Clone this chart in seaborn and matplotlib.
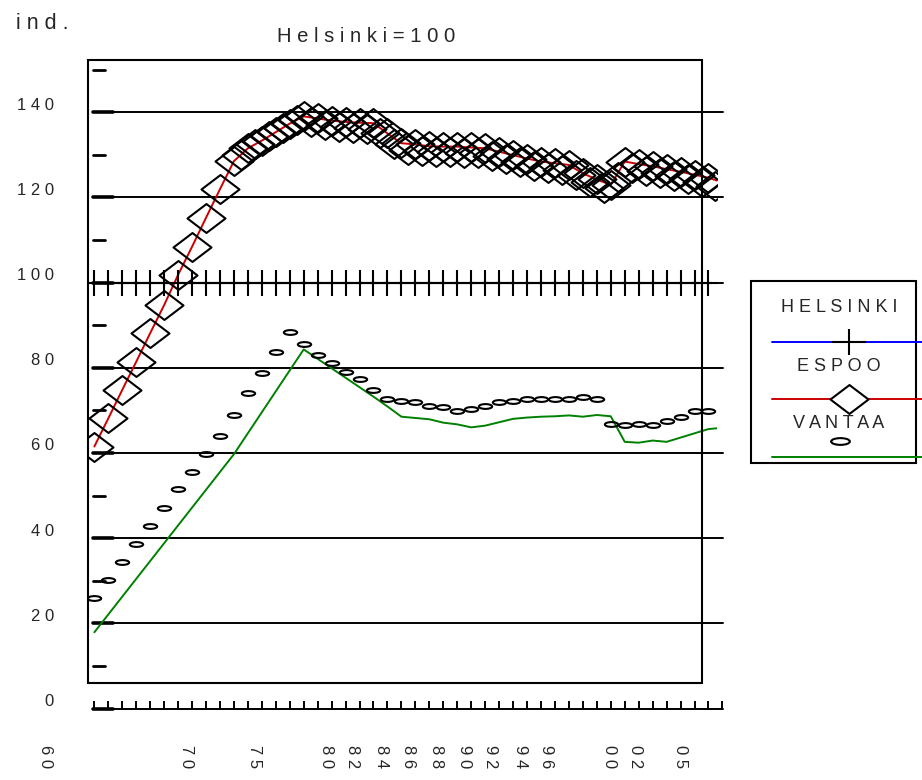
import numpy as np
import matplotlib
matplotlib.use("Agg")
import matplotlib.pyplot as plt
from matplotlib.path import Path
from matplotlib.patches import Rectangle
from matplotlib.transforms import ScaledTranslation, blended_transform_factory
import seaborn as sns

# ── Data ────────────────────────────────────────────────
tick_years = np.arange(1960, 2006)

hki_years = np.arange(1960, 2005)
hki_values = [100] * len(hki_years)

espoo_years = np.arange(1960, 2006)
espoo_line = [61.5, 68.1, 74.8, 81.4, 88.1, 94.7, 101.8, 108.4, 115.2, 121.9,
              128.5, 131.5, 133.3, 135.3, 137.3, 139.0, 138.5, 138.0, 137.7, 137.5,
              137.4, 135.0, 132.7, 132.4, 132.0, 131.9, 131.9, 131.7, 131.5, 130.7,
              129.9, 129.1, 128.4, 128.0, 127.6, 125.6, 124.2, 122.9, 128.4, 127.8,
              127.3, 126.6, 126.0, 125.3, 124.6, 123.5]
# vinoneliöt: vuosittain + toinen rivi puolen vuoden välein 1970-luvulta alkaen
espoo_mark_years = list(range(1960, 2005)) + [y + 0.5 for y in range(1970, 2005)]
espoo_marks = espoo_line[:45] + [
    130.0, 132.4, 134.3, 136.3, 138.2, 137.6, 136.9, 136.5, 136.3, 136.1,
    135.0, 132.6, 131.2, 130.9, 130.6, 130.6, 130.5, 130.3, 129.8, 129.0,
    128.2, 127.4, 126.9, 126.5, 125.3, 123.6, 122.2, 124.8, 126.8, 126.2,
    125.6, 125.0, 124.3, 123.7, 122.7]

vantaa_mark_years = np.arange(1960, 2005)
vantaa_marks = [25.9, 30.2, 34.5, 38.6, 42.8, 47.1, 51.5, 55.5, 59.7, 64.0,
                69.0, 74.0, 78.8, 83.6, 88.3, 85.6, 83.0, 81.0, 79.0, 77.3,
                74.8, 72.7, 72.3, 71.9, 71.0, 70.7, 69.9, 70.3, 71.1, 71.9,
                72.2, 72.6, 72.7, 72.7, 72.7, 73.1, 72.6, 66.7, 66.5, 66.9,
                66.6, 67.6, 68.5, 69.8, 69.9]
vantaa_line_years = [1960, 1970, 1975, 1980, 1981, 1982, 1983, 1984, 1985, 1986,
                     1987, 1988, 1989, 1990, 1991, 1992, 1993, 1994, 1995, 1996,
                     1997, 1998, 1999, 2000, 2001, 2002, 2003, 2004, 2005]
vantaa_line = [17.9, 59.7, 84.3, 73.2, 70.9, 68.5, 68.2, 67.9, 67.1, 66.7,
               66.0, 66.4, 67.2, 68.0, 68.3, 68.5, 68.6, 68.8, 68.5, 68.9,
               68.6, 62.6, 62.4, 62.9, 62.6, 63.6, 64.6, 65.6, 65.9]

grid_vals = [0, 20, 40, 60, 80, 100, 120, 140]
minor_vals = [10, 30, 50, 70, 90, 110, 130, 150]
ylab_vals = [0, 20, 40, 60, 80, 100, 120, 140]
xlab_text = ["60", "70", "75", "80", "82", "84", "86", "88", "90",
             "92", "94", "96", "00", "02", "05"]
xlab_pos = [1956.5, 1966.6, 1971.5, 1976.6, 1978.5, 1980.6, 1982.5, 1984.5,
            1986.5, 1988.4, 1990.5, 1992.4, 1996.9, 1998.8, 2002.0]

legend_names = ["HELSINKI", "ESPOO", "VANTAA"]

XMIN, XMAX, BOX_RIGHT = 1959.51, 2004.61, 2003.5
YMIN, YMAX = 5.99, 152.23


def sp(s):
    # harva kirjainväli kuten alkuperäisessä
    return " ".join(s)


# ── Markers ─────────────────────────────────────────────
cross = Path([(-1, 0), (1, 0), (0, -0.76), (0, 0.76)],
             [Path.MOVETO, Path.LINETO, Path.MOVETO, Path.LINETO])
diamond = Path([(-1, 0), (0, 0.76), (1, 0), (0, -0.76), (-1, 0)],
               [Path.MOVETO, Path.LINETO, Path.LINETO, Path.LINETO, Path.CLOSEPOLY])
circ = Path.unit_circle()
ellipse = Path(circ.vertices * np.array([1.0, 0.36]), circ.codes)

sns.set_style("white")
plt.rcParams['font.family'] = ['Liberation Sans', 'DejaVu Sans']

W, H = 922, 780
fig = plt.figure(figsize=(W / 100, H / 100), dpi=100)


def px_box(l, t, r, b):
    return [l / W, 1 - b / H, (r - l) / W, (b - t) / H]


ax = fig.add_axes(px_box(87.5, 60, 717, 683))

# ── Grid, stubs, ticks ──────────────────────────────────
for v in grid_vals:
    ax.plot([1959.9, 2005.05], [v, v], color="black", lw=1.4, clip_on=False, zorder=1)
    ax.plot([1959.9, 1961.34], [v, v], color="black", lw=2.6, clip_on=False, zorder=1)
for v in minor_vals:
    ax.plot([1959.9, 1960.77], [v, v], color="black", lw=2.0, clip_on=False, zorder=1)
ax.vlines(tick_years, 0, 1.8, colors="black", lw=1.4, clip_on=False, zorder=1)

# ── Series ──────────────────────────────────────────────
sns.lineplot(x=hki_years, y=hki_values, ax=ax, color="blue", lw=1.4,
             marker=cross, ms=24.5, markeredgecolor="black", markeredgewidth=1.5,
             zorder=3)
sns.lineplot(x=espoo_years, y=espoo_line, ax=ax, color="#cc0000", lw=1.4, zorder=2)
sns.lineplot(x=espoo_mark_years, y=espoo_marks, ax=ax, linestyle="none",
             marker=diamond, ms=27.4, markerfacecolor="none",
             markeredgecolor="black", markeredgewidth=1.5, zorder=3)
sns.lineplot(x=vantaa_line_years, y=vantaa_line, ax=ax, color="#008000", lw=1.4, zorder=2)
sns.lineplot(x=vantaa_mark_years, y=vantaa_marks, ax=ax, linestyle="none",
             marker=ellipse, ms=9.6, markerfacecolor="none",
             markeredgecolor="black", markeredgewidth=1.5, zorder=3)

# ── Limits (after plotting, seaborn autoscales) ─────────
ax.set_xlim(XMIN, XMAX)
ax.set_ylim(YMIN, YMAX)
ax.set_xticks([])
ax.set_yticks([])
ax.set_xlabel("")
ax.set_ylabel("")

# ── Frame ───────────────────────────────────────────────
for side in ax.spines:
    ax.spines[side].set_visible(False)
xdata_yaxes = blended_transform_factory(ax.transData, ax.transAxes)
ax.add_patch(Rectangle((XMIN, 0), BOX_RIGHT - XMIN, 1, transform=xdata_yaxes,
                       fill=False, lw=1.5, ec="black", clip_on=False, zorder=4))

# ── Tick labels ─────────────────────────────────────────
ylab_tr = (blended_transform_factory(ax.transAxes, ax.transData)
           + ScaledTranslation(-33.5 / 100, 7 / 100, fig.dpi_scale_trans))
for v in ylab_vals:
    ax.text(0, v, sp(str(v)), transform=ylab_tr, ha="right", va="center",
            fontsize=12, clip_on=False)
xlab_tr = xdata_yaxes + ScaledTranslation(0, -62 / 100, fig.dpi_scale_trans)
for pos, t in zip(xlab_pos, xlab_text):
    ax.text(pos, 0, sp(t), transform=xlab_tr, ha="center", va="top",
            rotation=-90, fontsize=12, clip_on=False)

fig.text(16 / W, 1 - 29.3 / H, sp("ind."), ha="left", va="baseline", fontsize=15.5)
fig.text(366 / W, 1 - 41.7 / H, sp("Helsinki=100"), ha="center", va="baseline", fontsize=14.6)

# ── Legend ──────────────────────────────────────────────
lax = fig.add_axes([0, 0, 1, 1])
lax.set_xlim(0, W)
lax.set_ylim(H, 0)
lax.axis("off")
lax.add_patch(Rectangle((750.7, 280.7), 165, 182, fill=False, lw=1.5, ec="black"))
for name, ty in zip(legend_names, [311.7, 370.7, 428.0]):
    lax.text(839, ty, sp(name), ha="center", va="baseline", fontsize=13)
lax.plot([771.7, 922], [341.7, 341.7], color="blue", lw=1.4)
lax.plot([771.7, 922], [399.3, 399.3], color="#cc0000", lw=1.4)
lax.plot([771.7, 922], [457.3, 457.3], color="#008000", lw=1.4)
lax.plot([849], [342], marker=cross, ms=24.5, mec="black", mew=1.5, linestyle="none")
lax.plot([849], [399.3], marker=diamond, ms=27.4, mfc="white", mec="black", mew=1.5,
         linestyle="none")
lax.plot([840], [440.7], marker=ellipse, ms=13.5, mfc="none", mec="black", mew=1.5,
         linestyle="none")

fig.savefig("out.png", dpi=100)
